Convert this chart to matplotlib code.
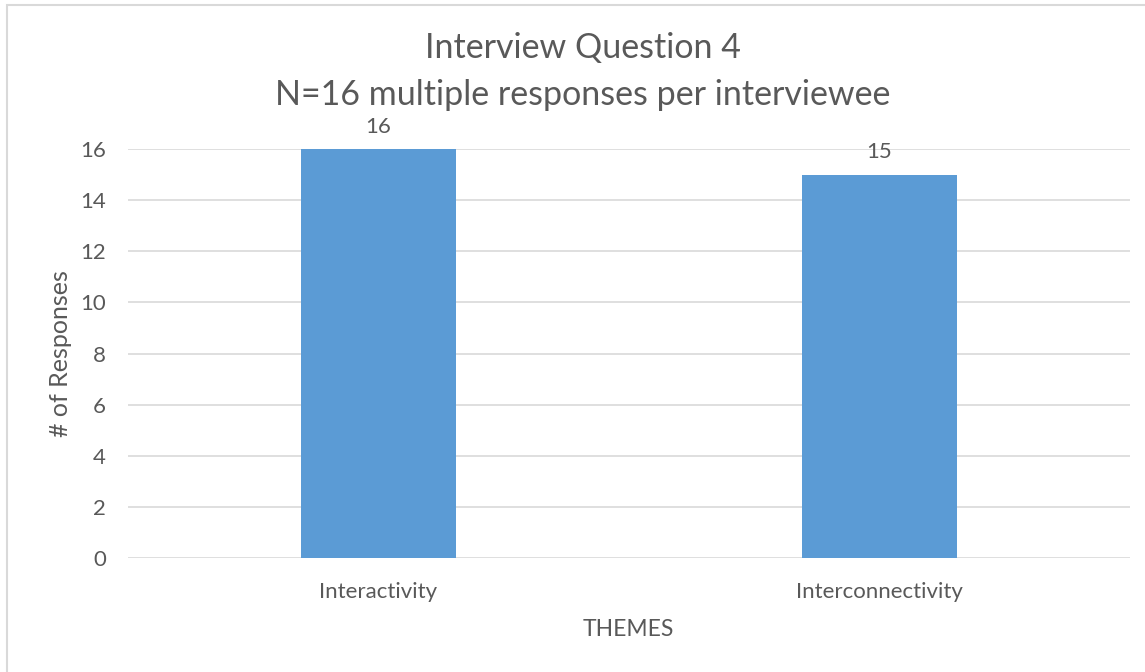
import matplotlib

matplotlib.use("Agg")

import matplotlib.pyplot as plt
from matplotlib.patches import Rectangle

# chart data
themes = ["Interactivity", "Interconnectivity"]
responses = [16, 15]
y_ticks = [0, 2, 4, 6, 8, 10, 12, 14, 16]

TEXT = "#595959"
BAR = "#5B9BD5"
GRID = "#D9D9D9"

plt.rcParams["font.family"] = ["Lato", "DejaVu Sans"]

fig = plt.figure(figsize=(11.45, 6.72), dpi=100)
# chart-area border (only left/top edges fall inside the picture)
fig.patches.append(Rectangle((7 / 1145, -0.1), 1.2, (672 - 5) / 672 + 0.1,
                             transform=fig.transFigure, fill=False,
                             edgecolor="#D9D9D9", lw=1.5))

ax = fig.add_axes([128 / 1145, (672 - 558) / 672,
                   (1130 - 128) / 1145, (558 - 149) / 672])
x = range(len(themes))
bars = ax.bar(x, responses, width=0.31, color=BAR, zorder=3)
for b, v in zip(bars, responses):
    ax.annotate(str(v), (b.get_x() + b.get_width() / 2, v),
                xytext=(0, 16), textcoords="offset points",
                ha="center", va="center", fontsize=16, color=TEXT)

ax.set_xlim(-0.5, len(themes) - 0.5)
ax.set_ylim(0, 16)
ax.set_yticks(y_ticks)
ax.set_xticks(list(x))
ax.set_xticklabels(themes)
ax.yaxis.grid(True, color=GRID, lw=1.2, zorder=0)
ax.set_axisbelow(True)
for s in ax.spines.values():
    s.set_visible(False)
ax.tick_params(length=0, labelsize=16, labelcolor=TEXT)
ax.tick_params(axis="y", pad=16)
ax.tick_params(axis="x", pad=17)

ax.set_ylabel("# of Responses", fontsize=18, color=TEXT, va="center")
ax.yaxis.set_label_coords((60 - 128) / 1002, 0.5)
ax.set_xlabel("THEMES", fontsize=16.5, color=TEXT, va="center")
ax.xaxis.set_label_coords((628 - 128) / 1002, (558 - 629) / 409)

fig.text(583 / 1145, 1 - 48 / 672, "Interview Question 4", ha="center",
         va="center", fontsize=24.5, color=TEXT)
fig.text(583 / 1145, 1 - 95 / 672, "N=16 multiple responses per interviewee",
         ha="center", va="center", fontsize=24.5, color=TEXT)

fig.savefig("out.png", dpi=100)
